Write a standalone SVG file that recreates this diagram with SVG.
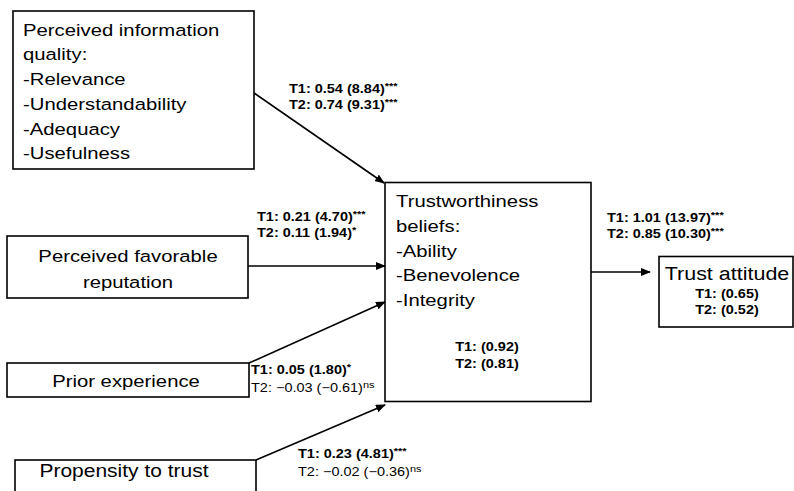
<svg xmlns="http://www.w3.org/2000/svg" width="794" height="491" viewBox="0 0 794 491">
<style>
.box{fill:#fff;stroke:#000;stroke-width:1.6}
.big{font-family:"Liberation Sans",Arial,sans-serif;font-size:20.3px;fill:#000}
.lb{font-family:"Liberation Sans",Arial,sans-serif;font-size:14.5px;font-weight:bold;fill:#000}
.lr{font-family:"Liberation Sans",Arial,sans-serif;font-size:14.5px;fill:#000}
.sup{font-size:11px}
.c{text-anchor:middle}
.edge{stroke:#000;stroke-width:1.6;fill:none;marker-end:url(#ah)}
</style>
<defs>
<marker id="ah" markerWidth="10" markerHeight="8" refX="9" refY="4" orient="auto" markerUnits="userSpaceOnUse"><path d="M0,0 L10,4 L0,8 z" fill="#000"/></marker>
</defs>
<rect width="794" height="491" fill="#fff"/>

<g id="connectors">
<path class="edge" d="M254,93 L384,183"/>
<path class="edge" d="M248,266 L385,266"/>
<path class="edge" d="M249,363 L385,302"/>
<path class="edge" d="M256,460 L385,405"/>
<path class="edge" d="M591,272 L650,272"/>
</g>

<g id="info-quality">
<rect class="box" x="13" y="11" width="241" height="158"/>
<text class="big" transform="translate(23 35.7) scale(1 .85)">Perceived information</text>
<text class="big" transform="translate(23 60.4) scale(1 .85)">quality:</text>
<text class="big" transform="translate(23 85) scale(1 .85)">-Relevance</text>
<text class="big" transform="translate(23 110) scale(1 .85)">-Understandability</text>
<text class="big" transform="translate(23 134.5) scale(1 .85)">-Adequacy</text>
<text class="big" transform="translate(23 159) scale(1 .85)">-Usefulness</text>
</g>

<g id="favorable-reputation">
<rect class="box" x="7" y="236" width="241" height="62"/>
<text class="big c" transform="translate(128 262) scale(1 .85)">Perceived favorable</text>
<text class="big c" transform="translate(128 287.5) scale(1 .85)">reputation</text>
</g>

<g id="prior-experience">
<rect class="box" x="7" y="363" width="242" height="34"/>
<text class="big c" transform="translate(126 387) scale(1 .85)">Prior experience</text>
</g>

<g id="propensity">
<rect class="box" x="15" y="460" width="241" height="40"/>
<text class="big c" style="font-size:21px" transform="translate(124 477) scale(1 .85)">Propensity to trust</text>
</g>

<g id="trustworthiness">
<rect class="box" x="385" y="182.5" width="206" height="219"/>
<text class="big" transform="translate(396 206.5) scale(1 .85)">Trustworthiness</text>
<text class="big" transform="translate(396 231.5) scale(1 .85)">beliefs:</text>
<text class="big" transform="translate(396 256.5) scale(1 .85)">-Ability</text>
<text class="big" transform="translate(396 281) scale(1 .85)">-Benevolence</text>
<text class="big" transform="translate(396 305.5) scale(1 .85)">-Integrity</text>
<text class="lb c" transform="translate(487 351) scale(1 .85)">T1: (0.92)</text>
<text class="lb c" transform="translate(487 368) scale(1 .85)">T2: (0.81)</text>
</g>

<g id="trust-attitude">
<rect class="box" x="659" y="256.5" width="134" height="70.5"/>
<text class="big c" style="font-size:21.5px" transform="translate(727 280) scale(1 .85)">Trust attitude</text>
<text class="lb c" transform="translate(727 298) scale(1 .85)">T1: (0.65)</text>
<text class="lb c" transform="translate(727 314) scale(1 .85)">T2: (0.52)</text>
</g>

<g id="labels">
<text class="lb" transform="translate(289 93) scale(1 .85)">T1: 0.54 (8.84)<tspan class="sup" dy="-5">***</tspan></text>
<text class="lb" transform="translate(289 109) scale(1 .85)">T2: 0.74 (9.31)<tspan class="sup" dy="-5">***</tspan></text>
<text class="lb" transform="translate(257 221) scale(1 .85)">T1: 0.21 (4.70)<tspan class="sup" dy="-5">***</tspan></text>
<text class="lb" transform="translate(257 237) scale(1 .85)">T2: 0.11 (1.94)<tspan class="sup" dy="-5">*</tspan></text>
<text class="lb" transform="translate(251 374) scale(1 .85)">T1: 0.05 (1.80)<tspan class="sup" dy="-5">*</tspan></text>
<text class="lr" transform="translate(251 392) scale(1 .85)">T2: −0.03 (−0.61)<tspan class="sup" dy="-5">ns</tspan></text>
<text class="lb" transform="translate(298 458) scale(1 .85)">T1: 0.23 (4.81)<tspan class="sup" dy="-5">***</tspan></text>
<text class="lr" transform="translate(298 476) scale(1 .85)">T2: −0.02 (−0.36)<tspan class="sup" dy="-5">ns</tspan></text>
<text class="lb" transform="translate(607 222) scale(1 .85)">T1: 1.01 (13.97)<tspan class="sup" dy="-5">***</tspan></text>
<text class="lb" transform="translate(607 238) scale(1 .85)">T2: 0.85 (10.30)<tspan class="sup" dy="-5">***</tspan></text>
</g>
</svg>
